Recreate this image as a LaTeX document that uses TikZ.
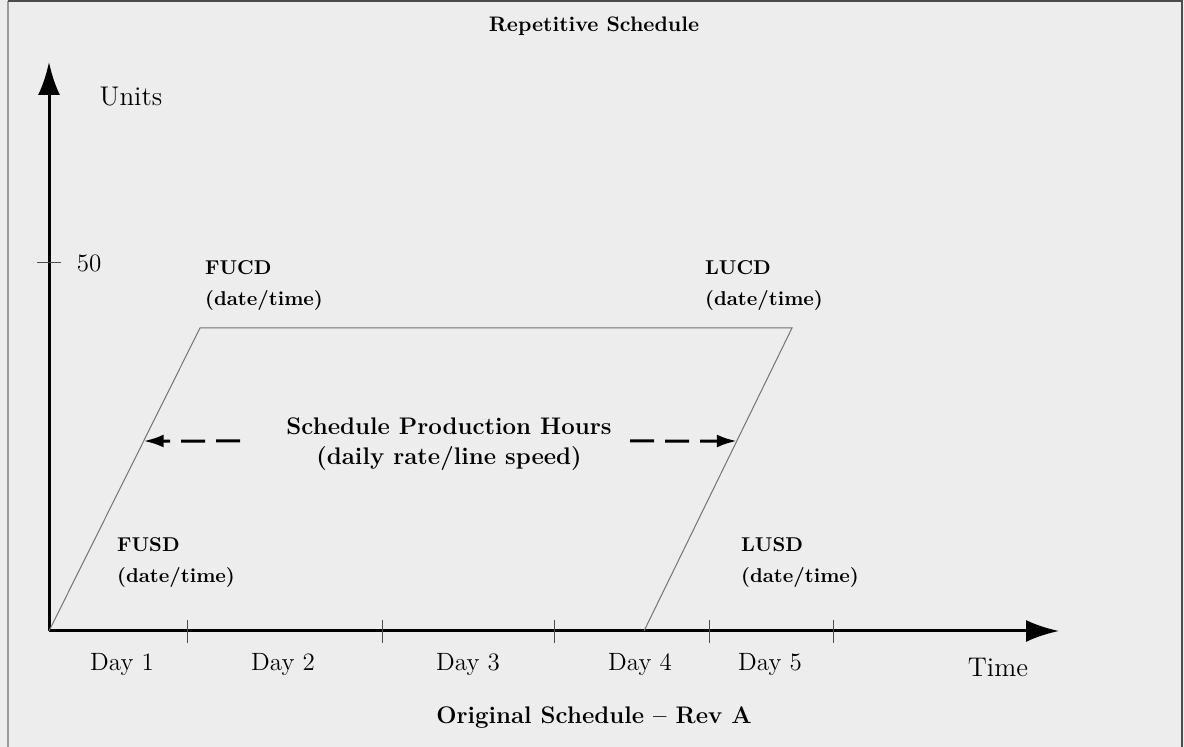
\documentclass[tikz,border=0pt]{standalone}
\usetikzlibrary{arrows.meta,calc}
\tikzset
 {> = {Latex[length=16.5pt,width=11pt]},        % big filled heads on the two axes
  axis/.style =      {line width=1.5pt, ->},               % time and units axes
  tickmark/.style =  {line width=0.5pt, black!70},        % short marks on the axes
  outline/.style =   {line width=0.5pt, black!55},    % the parallelogram of the plan
  span/.style =                             % dashed arrows out to the slanted sides
   {line width=1.5pt, dash pattern=on 12pt off 5.5pt,
    -{Latex[length=10pt,width=6.5pt]}
   },
  axislabel/.style = {font=\fontsize{13.5}{16}\selectfont},
  daylabel/.style =  {font=\fontsize{12.5}{15}\selectfont},
  datelabel/.style =                   % two bold lines, set flush left at the point
   {font=\fontsize{10}{15.5}\bfseries\selectfont, align=left, anchor=west},
  heading/.style =   {font=\fontsize{10.5}{13}\bfseries\selectfont}
 }

\begin{document}
\begin{tikzpicture}[x=0.5pt, y=-0.5pt]   % one unit is one pixel of the sketch
    % canvas and frame
    \fill[black!7] (0,0) rectangle (1184,747);
    \useasboundingbox (0,0) rectangle (1184,747);
    \draw[black!40, line width=1pt] (8,747) -- (8,1);
    \draw[black!70, line width=1pt] (8,1) -- (1182,1) -- (1182,747);

    \node[heading] (title) at (594,26) {Repetitive Schedule};
    \node[heading, font=\fontsize{12}{14}\bfseries\selectfont] (caption) at (594,718)
        {Original Schedule -- Rev A};

    % axes
    \coordinate (origin) at (49,631);
    \coordinate (units end) at (49,62);
    \coordinate (time end) at (1059,631);
    \draw[axis] (origin) -- (units end);
    \draw[axis] (origin) -- (time end);
    \node[axislabel] (units) at (131,97) {Units};
    \node[axislabel] (time) at (998,667) {Time};

    \draw[tickmark] (37,263) -- (61,263);
    \node[axislabel, font=\fontsize{12.5}{15}\selectfont] (fifty) at (89,263) {50};

    \foreach \x in {187, 382, 554, 709, 833}
        \draw[tickmark] (\x,620) -- (\x,643);
    \foreach \x/\d in {122/1, 283/2, 468/3, 640/4, 770/5}
        \node[daylabel] (day\d) at (\x,665) {Day \d};

    % first unit start, first unit complete, last unit complete, last unit start
    \coordinate (fusd) at (49,631);
    \coordinate (fucd) at (200,328);
    \coordinate (lucd) at (792,328);
    \coordinate (lusd) at (644,631);
    \draw[outline] (fusd) -- (fucd) -- (lucd) -- (lusd);

    \node[datelabel] (fucd label) at (198,286) {FUCD\\(date/time)};
    \node[datelabel] (lucd label) at (698,286) {LUCD\\(date/time)};
    \node[datelabel] (fusd label) at (110,563) {FUSD\\(date/time)};
    \node[datelabel] (lusd label) at (734,563) {LUSD\\(date/time)};

    \node[heading, font=\fontsize{12}{15}\bfseries\selectfont, align=center]
        (hours) at (449,444) {Schedule Production Hours\\(daily rate/line speed)};

    \coordinate (left tail) at (240,441);
    \coordinate (right tail) at (630,441);
    \draw[span] (left tail) -- ($(fusd)!0.627!(fucd)$);
    \draw[span] (right tail) -- ($(lusd)!0.627!(lucd)$);
\end{tikzpicture}
\end{document}
